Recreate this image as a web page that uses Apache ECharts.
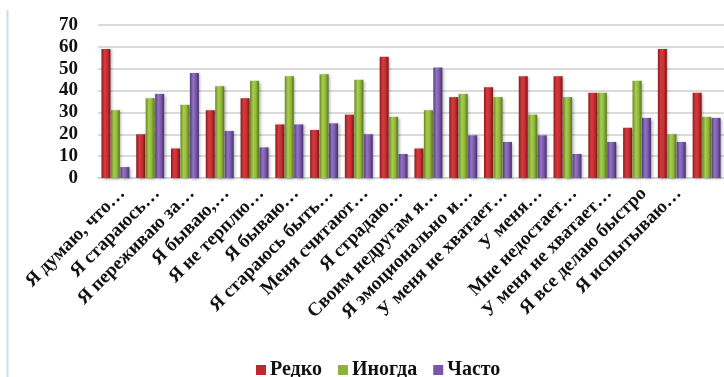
<!DOCTYPE html>
<html>
<head>
<meta charset="utf-8">
<script src="https://cdn.jsdelivr.net/npm/echarts@6/dist/echarts.min.js"></script>
<style>
  html, body { margin: 0; padding: 0; background: #ffffff; }
  #chart { width: 724px; height: 377px; }
</style>
</head>
<body>
<div id="chart"></div>
<script>
// ---- data ----
const categories = [
  "Я думаю, что…",
  "Я стараюсь…",
  "Я переживаю за…",
  "Я бываю,…",
  "Я не терплю…",
  "Я бываю…",
  "Я стараюсь быть…",
  "Меня считают…",
  "Я страдаю…",
  "Своим недругам я…",
  "Я эмоционально и…",
  "У меня не хватает…",
  "У меня…",
  "Мне недостает…",
  "У меня не хватает…",
  "Я все делаю быстро",
  "Я испытываю…",
  ""
];
const seriesNames = ["Редко", "Иногда", "Часто"];
const redko  = [59, 20, 13.5, 31, 36.5, 24.5, 22, 29, 55.5, 13.5, 37, 41.5, 46.5, 46.5, 39, 23, 59, 39];
const inogda = [31, 36.5, 33.5, 42, 44.5, 46.5, 47.5, 45, 28, 31, 38.5, 37, 29, 37, 39, 44.5, 20, 28];
const chasto = [5, 38.5, 48, 21.5, 14, 24.5, 25, 20, 11, 50.5, 19.5, 16.5, 19.5, 11, 16.5, 27.5, 16.5, 27.5];
const yTicks = { min: 0, max: 70, interval: 10 };

// ---- styling ----
function grad(c0, c1, c2, c3) {
  return new echarts.graphic.LinearGradient(0, 0, 1, 0, [
    { offset: 0, color: c0 },
    { offset: 0.35, color: c1 },
    { offset: 0.65, color: c2 },
    { offset: 1, color: c3 }
  ]);
}
const fills = [
  grad('#8f1a1e', '#d63a3d', '#c72f33', '#7a1417'),
  grad('#67871f', '#a8cc4f', '#93ba3b', '#56751a'),
  grad('#553a80', '#9274c2', '#7c5aab', '#472d6d')
];
const legendColors = ['#c0282d', '#8db33a', '#7b55ab'];
const font = '"Liberation Serif", "Times New Roman", serif';

const data = [redko, inogda, chasto];
const series = data.map((vals, i) => ({
  name: seriesNames[i],
  type: 'bar',
  data: vals,
  barWidth: 9,
  barGap: '5%',
  itemStyle: {
    color: fills[i],
    shadowColor: 'rgba(0,0,0,0.35)',
    shadowBlur: 3,
    shadowOffsetX: 1.5,
    shadowOffsetY: 1
  },
  emphasis: { disabled: true }
}));

const chart = echarts.init(document.getElementById('chart'), null, { renderer: 'canvas' });
chart.setOption({
  animation: false,
  backgroundColor: '#ffffff',
  color: legendColors,
  grid: { left: 98, right: 0, top: 25, bottom: 199, containLabel: false },
  legend: {
    data: seriesNames.map((n, i) => ({ name: n, itemStyle: { color: legendColors[i] } })),
    left: 251,
    top: 355,
    icon: 'rect',
    itemWidth: 10,
    itemHeight: 10,
    itemGap: 16,
    textStyle: { fontFamily: font, fontWeight: 'bold', fontSize: 20, color: '#111111', padding: [0, 0, 0, -1] }
  },
  xAxis: {
    type: 'category',
    data: categories,
    axisLine: { show: true, lineStyle: { color: '#d4d4d4', width: 2 } },
    axisTick: { show: false },
    axisLabel: {
      interval: 0,
      rotate: 45,
      margin: 6,
      verticalAlign: 'top',
      fontFamily: font,
      fontWeight: 'bold',
      fontSize: 19,
      color: '#111111'
    }
  },
  yAxis: {
    type: 'value',
    min: yTicks.min,
    max: yTicks.max,
    interval: yTicks.interval,
    axisLine: { show: false },
    axisTick: { show: false },
    splitLine: { lineStyle: { color: '#dadada', width: 2 } },
    axisLabel: {
      margin: 20,
      fontFamily: font,
      fontWeight: 'bold',
      fontSize: 19,
      color: '#111111'
    }
  },
  graphic: [
    {
      type: 'line',
      shape: { x1: 7.5, y1: 10, x2: 7.5, y2: 377 },
      style: { stroke: '#cde0e0', lineWidth: 2 },
      silent: true
    }
  ],
  series: series
});
</script>
</body>
</html>
